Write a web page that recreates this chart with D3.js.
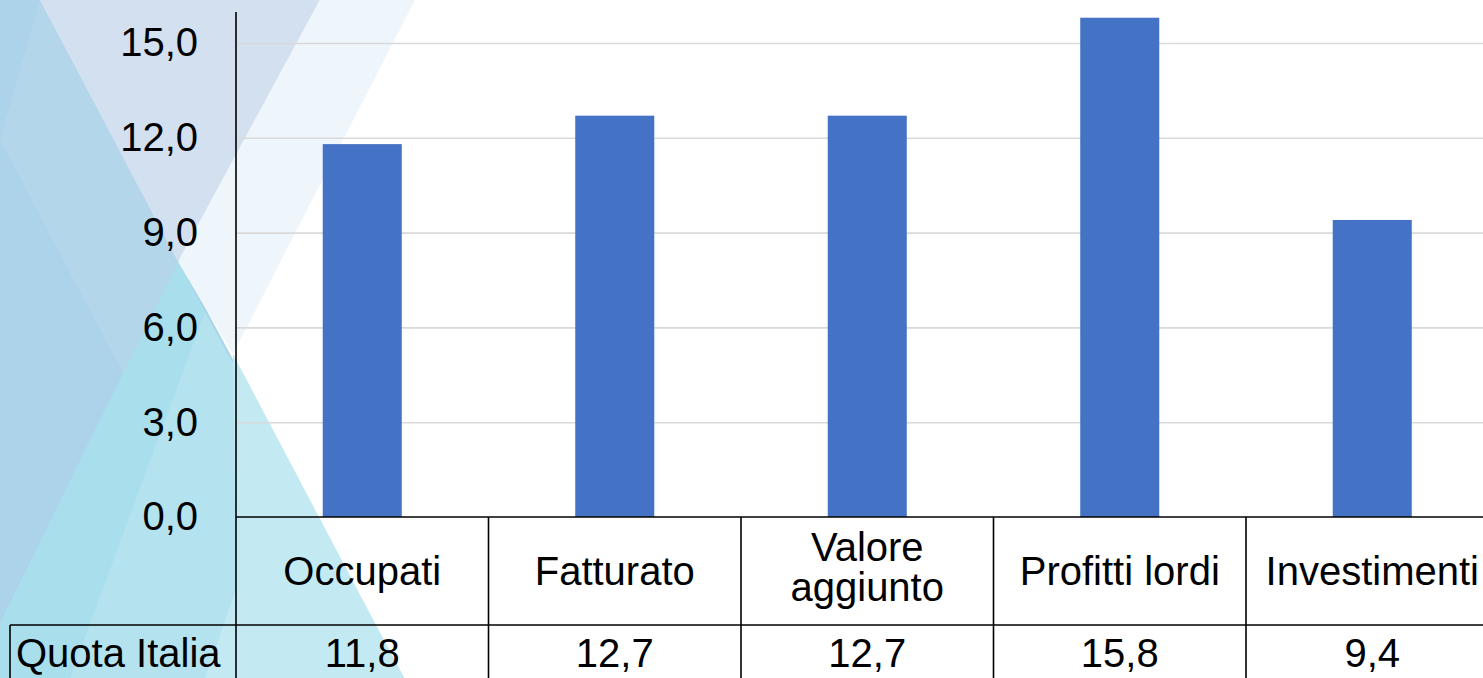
<!DOCTYPE html>
<html>
<head>
<meta charset="utf-8">
<script src="https://cdn.jsdelivr.net/npm/d3@7"></script>
<style>
  html, body { margin: 0; padding: 0; background: #ffffff; overflow: hidden; }
  svg { display: block; font-family: "Liberation Sans", Arial, sans-serif; }
</style>
</head>
<body>
<svg id="chart" width="1483" height="678"></svg>
<script>
// Quota Italia per indicatore
const categories = ["Occupati", "Fatturato", "Valore aggiunto", "Profitti lordi", "Investimenti"];
const values = [11.8, 12.7, 12.7, 15.8, 9.4];
const seriesName = "Quota Italia";
const yTicks = [0, 3, 6, 9, 12, 15];
const yMax = 16;

const W = 1483, H = 678;
const svg = d3.select("#chart");

// decorative facets on the left side of the slide
const facets = [
  { pts: [[0,0],[40,0],[404,678],[0,678]], fill: "#acd3e9" },
  { pts: [[0,140],[40,0],[178,262],[123,373]], fill: "#b4d6eb" },
  { pts: [[40,0],[320,0],[178,262]], fill: "#d3e0f0" },
  { pts: [[320,0],[415,0],[233,354],[178,262]], fill: "#eef6fc" },
  { pts: [[178,262],[404,678],[0,678],[0,623]], fill: "#a9deed" },
  { pts: [[205,312],[404,678],[70,678]], fill: "#b4e3ef" },
  { pts: [[233,354],[404,678],[205,678],[236,590]], fill: "#c3eaf3" }
];
svg.append("g").selectAll("polygon").data(facets).join("polygon")
  .attr("points", d => d.pts.map(p => p.join(",")).join(" "))
  .attr("fill", d => d.fill);

// scales
const x0 = 236, bandStep = 252.5;
const x = d3.scaleBand()
  .domain(categories)
  .range([x0, x0 + bandStep * categories.length])
  .paddingInner(0.687)
  .paddingOuter(0.3435);
const y = d3.scaleLinear().domain([0, yMax]).range([517, 11.4]);

const locale = d3.formatLocale({ decimal: ",", thousands: ".", grouping: [3], currency: ["€", ""] });
const fmt = locale.format(".1f");

// gridlines
svg.append("g")
  .attr("transform", `translate(${x0},0)`)
  .call(d3.axisLeft(y).tickValues(yTicks.filter(t => t > 0)).tickSize(-(W - x0)).tickFormat(""))
  .call(g => g.select(".domain").remove())
  .call(g => g.selectAll(".tick line").attr("stroke", "#d9d9d9").attr("stroke-width", 1.6));

// y axis labels
svg.append("g")
  .attr("transform", `translate(${x0},0)`)
  .call(d3.axisLeft(y).tickValues(yTicks).tickSize(0).tickPadding(38).tickFormat(fmt))
  .call(g => g.select(".domain").remove())
  .call(g => g.selectAll(".tick text")
    .attr("font-size", 40).attr("fill", "#000")
    .attr("font-family", "'Liberation Sans', Arial, sans-serif"));

// bars
svg.append("g").selectAll("rect").data(values).join("rect")
  .attr("x", (d, i) => x(categories[i]))
  .attr("width", x.bandwidth())
  .attr("y", d => y(d))
  .attr("height", d => y(0) - y(d))
  .attr("fill", "#4472c4");

// data table beneath the plot
const rowTop = y(0), rowMid = 625, rowBottom = H;
const lines = svg.append("g").attr("stroke", "#000").attr("stroke-width", 1.6);
lines.append("line").attr("x1", x0).attr("x2", W).attr("y1", rowTop).attr("y2", rowTop);
lines.append("line").attr("x1", 10).attr("x2", W).attr("y1", rowMid).attr("y2", rowMid);
lines.append("line").attr("x1", x0).attr("x2", x0).attr("y1", 12).attr("y2", rowBottom);
lines.append("line").attr("x1", 10).attr("x2", 10).attr("y1", rowMid).attr("y2", rowBottom);
lines.selectAll(".sep").data(categories.slice(1)).join("line").attr("class", "sep")
  .attr("x1", d => x(d) - x.step() * x.paddingInner() / 2)
  .attr("x2", d => x(d) - x.step() * x.paddingInner() / 2)
  .attr("y1", rowTop).attr("y2", rowBottom);

const cx = d => x(d) + x.bandwidth() / 2;
const maxLabel = x.step() - 16;

// category labels, wrapped to fit their cell
const catG = svg.append("g").attr("font-size", 40).attr("fill", "#000").attr("text-anchor", "middle");
categories.forEach(c => {
  const t = catG.append("text").attr("x", cx(c));
  const probe = t.text(c);
  let rows = [c];
  if (probe.node().getComputedTextLength() > maxLabel) rows = c.split(" ");
  t.text(null);
  const lh = 40;
  const mid = (rowTop + rowMid) / 2 - (rows.length > 1 ? 4 : 0);
  rows.forEach((r, k) => {
    t.append("tspan").attr("x", cx(c))
      .attr("y", mid + (k - (rows.length - 1) / 2) * lh)
      .attr("dy", "0.35em").text(r);
  });
});

// value row
const valG = svg.append("g").attr("font-size", 40).attr("fill", "#000");
valG.append("text").attr("x", 16).attr("y", 667).text(seriesName);
valG.selectAll(".v").data(values).join("text").attr("class", "v")
  .attr("x", (d, i) => cx(categories[i]))
  .attr("y", 667)
  .attr("text-anchor", "middle")
  .text(d => fmt(d));
</script>
</body>
</html>
